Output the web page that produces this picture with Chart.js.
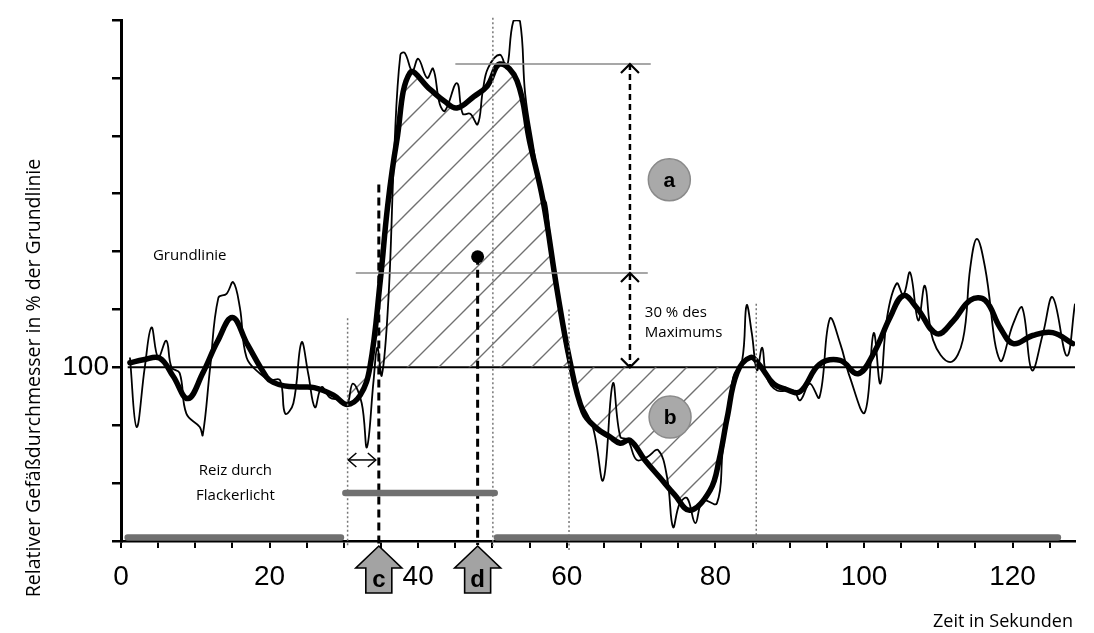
<!DOCTYPE html>
<html><head><meta charset="utf-8">
<script src="https://cdn.jsdelivr.net/npm/chart.js@4"></script>
<style>html,body{margin:0;padding:0;background:#fff}#wrap{width:1094px;height:633px}</style>
</head><body><div id="wrap"><canvas id="c" width="1094" height="633"></canvas></div>
<script>
// ---- data (seconds / % of baseline) ----
const rawTime = [1.2,2.1,3.2,4.1,5,6.1,6.8,7.9,8.8,10.6,11,12,13.1,14.2,15.1,16,16.9,18.7,20,21.4,22.1,23.2,24.3,25.2,26.1,27,28.1,29.5,30.4,31.2,32.4,33.1,34,34.5,35.1,36,36.8,37.6,38.2,39.2,40,41.2,42,42.9,43.6,45.2,46,47,48,48.7,49.4,51,51.9,52.8,53.7,54.4,55.5,56.6,57.2,57.7,59,60.4,61.5,63.5,64.9,66.2,67.2,68.2,69.4,70.8,72.3,73.5,74.3,75.2,76.2,77.3,78.3,80.2,81,82.4,83.6,84.2,84.9,85.6,86.3,86.9,88.3,90.5,91.4,92.7,94,95.4,96.8,98.1,100.1,101.3,102.2,103.1,104.4,105.3,106.2,107.3,108.2,109.3,111.6,113.3,114.3,115.2,116.3,118.3,120.1,121.3,122.6,124.1,125.4,127.3,128.4];
const rawValue = [101.7,89.7,100,106.9,101.7,104.6,100,99,92,89.7,88.3,100,112,112.7,114.7,110.3,101.7,98.9,97.8,97.8,92,93.8,104.3,98.9,93.1,96.6,94.8,94.3,93.4,97.2,93.8,86.2,97.8,103.4,98.6,112,138,154,154.3,151.2,153.3,150,151.6,145.5,144.3,149.1,143.8,143.8,142,147.8,151.7,154,151.7,159.8,159.8,147.2,138,129.5,128.5,123,110,100,95,89.7,80.5,97.2,88,87.5,84,84.5,85.7,81,72.4,76.5,77.4,73.1,77,76.5,85.7,98.3,101.2,110.7,105.9,99.5,103.4,98.3,96,96,94.3,97.2,94.8,108.4,104.1,98.3,92.2,105.9,97.2,108.6,114.5,112.5,116.4,108.1,114.1,104.7,100.9,104.7,117.2,122.2,117.2,101.2,107.6,110.3,99.5,105.9,112.1,102,111];
const smoothTime = [1.2,3,5.2,7,9,11,13,15,17,19.6,20.5,22,24,26,28.6,30.4,32.2,33.5,34.9,35.9,37.1,38.9,41.6,43.5,45.2,47.5,49.3,51,53.3,55,56.8,58.7,60.4,62.2,64,65.8,67.2,68.5,70.5,72.5,74.5,76.6,79.3,80.5,81.6,82.9,84.7,86,87.8,89.5,91.4,94,96.8,99.2,101.3,103.5,105.3,107.1,109.8,112,114.3,116.3,118.3,120.1,122.7,125.4,128.1];
const smoothValue = [100.8,101.3,101.6,98.5,94.6,99,104.5,108.6,104,98.3,97.4,96.8,96.6,96.5,95.2,93.6,95.2,100,115,128,139,150.9,148,146,144.8,146.8,148.6,152.4,149.5,139,128.8,113.3,101.2,92.3,89.5,88,86.9,87.4,84,81,78,75.3,78.8,84,91.4,99,101.7,100.3,97.2,96.2,95.8,100.5,101.2,98.9,102.4,108.6,112.4,110.3,105.8,108,111.6,111.6,106.9,104.1,105.5,106,104.1];
const xTickLabels = [0,20,40,60,80,100,120];
const yTickLabels = [100];
const baseline = 100;
const hatchRange = [30.4, 83];
const stimulus = [30.2, 50.3];
const restBars = [[0.9, 29.6], [50.6, 126.1]];
const markerTimes = {c: 34.7, d: 48.0};

const pts = (t, v) => t.map((x, i) => ({x, y: v[i]}));
const hatchPts = pts(smoothTime, smoothValue).filter(p => p.x >= hatchRange[0] && p.x <= hatchRange[1]);

// hatch pattern
const tile = document.createElement('canvas');
tile.width = 31; tile.height = 31;
const tc = tile.getContext('2d');
tc.strokeStyle = '#707070'; tc.lineWidth = 1.4;
tc.beginPath();
tc.moveTo(-2, 33); tc.lineTo(33, -2);
tc.moveTo(-2, 2); tc.lineTo(2, -2);
tc.moveTo(29, 33); tc.lineTo(33, 29);
tc.stroke();
const hatch = document.getElementById('c').getContext('2d').createPattern(tile, 'repeat');

const SANS = '"Open Sans", "DejaVu Sans", sans-serif';
const ARIAL = '"Liberation Sans", Arial, sans-serif';

const annot = {
  id: 'annot',
  beforeDatasetsDraw(chart) {
    const {ctx, scales: {x, y}} = chart;
    ctx.save();
    ctx.strokeStyle = '#000'; ctx.lineWidth = 2;
    ctx.beginPath();
    ctx.moveTo(x.getPixelForValue(0.9), y.getPixelForValue(baseline));
    ctx.lineTo(x.getPixelForValue(128.4), y.getPixelForValue(baseline));
    ctx.stroke();
    ctx.restore();
  },
  afterDraw(chart) {
    const {ctx, scales: {x, y}} = chart;
    const X = t => x.getPixelForValue(t), Y = v => y.getPixelForValue(v);
    ctx.save();
    // dotted verticals
    ctx.strokeStyle = '#777'; ctx.lineWidth = 1.5; ctx.setLineDash([2, 2.5]);
    [[30.5,108.5,69],[50.05,160.4,69.2],[60.3,110,68],[85.5,111,69.2]].forEach(([t,a,b]) => {
      ctx.beginPath(); ctx.moveTo(X(t), Y(a)); ctx.lineTo(X(t), Y(b)); ctx.stroke();
    });
    // gray horizontal reference lines
    ctx.setLineDash([]); ctx.strokeStyle = '#8a8a8a'; ctx.lineWidth = 1.6;
    [[152.4,45,71.3],[116.3,31.6,70.9]].forEach(([v,a,b]) => {
      ctx.beginPath(); ctx.moveTo(X(a), Y(v)); ctx.lineTo(X(b), Y(v)); ctx.stroke();
    });
    // thick dashed markers c, d
    ctx.strokeStyle = '#000'; ctx.lineWidth = 3; ctx.setLineDash([8, 5]);
    ctx.beginPath(); ctx.moveTo(X(markerTimes.c), Y(131.6)); ctx.lineTo(X(markerTimes.c), Y(68)); ctx.stroke();
    ctx.beginPath(); ctx.moveTo(X(markerTimes.d), Y(119.1)); ctx.lineTo(X(markerTimes.d), Y(69.3)); ctx.stroke();
    // vertical measuring arrow
    ctx.lineWidth = 2.5; ctx.setLineDash([6, 4]);
    ctx.beginPath(); ctx.moveTo(X(68.5), Y(152.4)); ctx.lineTo(X(68.5), Y(100)); ctx.stroke();
    ctx.setLineDash([]); ctx.lineWidth = 2.2;
    const chev = (px, py, dir, w, h) => {
      ctx.beginPath(); ctx.moveTo(px - w, py + dir * h); ctx.lineTo(px, py); ctx.lineTo(px + w, py + dir * h); ctx.stroke();
    };
    chev(X(68.5), Y(152.4), 1, 9, 9);
    chev(X(68.5), Y(116.3), 1, 9, 9);
    chev(X(68.5), Y(100), -1, 9, 9);
    // dot
    ctx.fillStyle = '#000';
    ctx.beginPath(); ctx.arc(X(markerTimes.d), Y(119.1), 6.5, 0, Math.PI * 2); ctx.fill();
    // double arrow (latency)
    ctx.lineWidth = 1.5;
    const yy = Y(84), xa = X(30.6), xb = X(34.3);
    ctx.beginPath(); ctx.moveTo(xa, yy); ctx.lineTo(xb, yy); ctx.stroke();
    ctx.beginPath(); ctx.moveTo(xa + 8, yy - 7); ctx.lineTo(xa, yy); ctx.lineTo(xa + 8, yy + 7); ctx.stroke();
    ctx.beginPath(); ctx.moveTo(xb - 8, yy - 7); ctx.lineTo(xb, yy); ctx.lineTo(xb - 8, yy + 7); ctx.stroke();
    // gray bars
    ctx.strokeStyle = '#707070'; ctx.lineWidth = 6.5; ctx.lineCap = 'round';
    restBars.forEach(([a,b]) => { ctx.beginPath(); ctx.moveTo(X(a), Y(70.6)); ctx.lineTo(X(b), Y(70.6)); ctx.stroke(); });
    ctx.beginPath(); ctx.moveTo(X(stimulus[0]), Y(78.3)); ctx.lineTo(X(stimulus[1]), Y(78.3)); ctx.stroke();
    ctx.lineCap = 'butt';
    // circles a, b
    [['a', 73.8, 132.4], ['b', 73.9, 91.4]].forEach(([s, t, v]) => {
      ctx.beginPath(); ctx.arc(X(t), Y(v), 21, 0, Math.PI * 2);
      ctx.fillStyle = '#a9a9a9'; ctx.fill();
      ctx.strokeStyle = '#8a8a8a'; ctx.lineWidth = 1.5; ctx.stroke();
      ctx.fillStyle = '#000'; ctx.font = 'bold 21px ' + ARIAL;
      ctx.textAlign = 'center'; ctx.textBaseline = 'middle';
      ctx.fillText(s, X(t), Y(v) + 1);
    });
    // up-arrow markers c, d
    const bottom = y.bottom;
    [['c', markerTimes.c], ['d', markerTimes.d]].forEach(([s, t]) => {
      const cx = X(t), tip = bottom + 5, sh = bottom + 27, bt = bottom + 52;
      ctx.beginPath();
      ctx.moveTo(cx, tip); ctx.lineTo(cx + 23, sh); ctx.lineTo(cx + 13, sh); ctx.lineTo(cx + 13, bt);
      ctx.lineTo(cx - 13, bt); ctx.lineTo(cx - 13, sh); ctx.lineTo(cx - 23, sh); ctx.closePath();
      ctx.fillStyle = '#a3a3a3'; ctx.fill();
      ctx.strokeStyle = '#000'; ctx.lineWidth = 1.6; ctx.stroke();
      ctx.fillStyle = '#000'; ctx.font = 'bold 24px ' + ARIAL;
      ctx.textAlign = 'center'; ctx.textBaseline = 'alphabetic';
      ctx.fillText(s, cx, bottom + 46);
    });
    // texts
    ctx.fillStyle = '#000'; ctx.font = '15px ' + SANS; ctx.textBaseline = 'middle';
    ctx.textAlign = 'left';
    ctx.fillText('Grundlinie', X(4.3), Y(119.3));
    ctx.fillText('30 % des', X(70.5), Y(109.5));
    ctx.fillText('Maximums', X(70.5), Y(105.9));
    ctx.textAlign = 'center';
    ctx.fillText('Reiz durch', X(15.4), Y(82.2));
    ctx.fillText('Flackerlicht', X(15.4), Y(77.9));
    // axis titles
    ctx.font = '18px ' + SANS; ctx.textAlign = 'right'; ctx.textBaseline = 'middle';
    ctx.fillText('Zeit in Sekunden', 1073, 622);
    ctx.save();
    ctx.translate(34, 378); ctx.rotate(-Math.PI / 2);
    ctx.font = '19.5px ' + SANS; ctx.textAlign = 'center';
    ctx.fillText('Relativer Gefäßdurchmesser in % der Grundlinie', 0, 0);
    ctx.restore();
    ctx.restore();
  }
};

new Chart(document.getElementById('c'), {
  type: 'line',
  data: {
    datasets: [
      {data: hatchPts, borderWidth: 0, pointRadius: 0, tension: 0.4, fill: {value: baseline}, backgroundColor: hatch, order: 3},
      {data: pts(rawTime, rawValue), borderColor: '#000', borderWidth: 1.8, pointRadius: 0, tension: 0.4, fill: false, order: 2},
      {data: pts(smoothTime, smoothValue), borderColor: '#000', borderWidth: 5.5, pointRadius: 0, tension: 0.4, fill: false, borderJoinStyle: 'round', borderCapStyle: 'round', order: 1}
    ]
  },
  options: {
    responsive: false, animation: false, devicePixelRatio: 1,
    layout: {padding: {top: 20, right: 19, left: 0, bottom: 0}},
    plugins: {legend: {display: false}, tooltip: {enabled: false}},
    scales: {
      x: {
        type: 'linear', min: 0, max: 128.4,
        border: {color: '#000', width: 2.5},
        grid: {drawOnChartArea: false, drawTicks: true, tickLength: 7, color: '#000', lineWidth: 2},
        ticks: {stepSize: 5, includeBounds: false, autoSkip: false, maxRotation: 0, color: '#000', padding: 12,
          font: {family: ARIAL, size: 28},
          callback: v => xTickLabels.includes(v) ? String(v) : ''},
        afterFit: s => { s.height = 92; }
      },
      y: {
        min: 70, max: 160,
        border: {color: '#000', width: 3},
        grid: {drawOnChartArea: false, drawTicks: true, tickLength: 9, color: '#000', lineWidth: 2.5},
        ticks: {stepSize: 10, includeBounds: false, autoSkip: false, color: '#000', padding: 3,
          font: {family: ARIAL, size: 28},
          callback: v => yTickLabels.includes(v) ? String(v) : ''},
        afterFit: s => { s.width = 121; }
      }
    }
  },
  plugins: [annot]
});
</script>
</body></html>
